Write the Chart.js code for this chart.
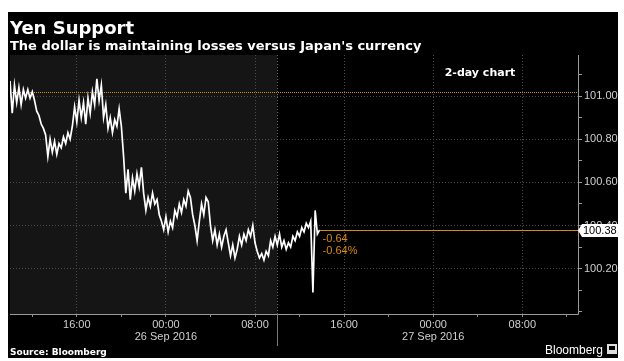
<!DOCTYPE html>
<html>
<head>
<meta charset="utf-8">
<script src="https://cdn.jsdelivr.net/npm/chart.js@4/dist/chart.umd.min.js"></script>
<style>
  html, body { margin: 0; padding: 0; background: #fff; }
  #wrap { position: absolute; left: 0; top: 0; width: 624px; height: 361px; }
</style>
</head>
<body>
<div id="wrap"><canvas id="c" width="624" height="361"></canvas></div>
<script>
// ---------- data ----------
const titleText = "Yen Support";
const subtitleText = "The dollar is maintaining losses versus Japan's currency";
const chartTag = "2-day chart";
const sourceText = "Source: Bloomberg";
const brandText = "Bloomberg";

// USD/JPY, sampled every 0.2 h starting at hour 0 of the 51-hour window
const SAMPLE_STEP_HOURS = 0.2;
const usdJpy = [
  101.07, 100.92, 101.05, 100.97, 101.04, 100.96, 101.03, 100.99, 101.03, 100.99, 101.02,
  100.98, 100.93, 100.91, 100.87, 100.85, 100.82, 100.72, 100.80, 100.74, 100.79,
  100.73, 100.78, 100.76, 100.81, 100.78, 100.83, 100.80, 100.86, 100.95, 100.88,
  100.98, 100.90, 100.97, 100.87, 100.99, 100.92, 101.02, 100.96, 101.08, 100.98,
  101.05, 100.90, 100.96, 100.85, 100.90, 100.83, 100.89, 100.86, 100.94, 100.86,
  100.72, 100.55, 100.66, 100.52, 100.62, 100.56, 100.64, 100.58, 100.67, 100.55,
  100.47, 100.53, 100.49, 100.55, 100.50, 100.52, 100.45, 100.42, 100.38, 100.44,
  100.37, 100.42, 100.39, 100.47, 100.44, 100.50, 100.46, 100.52, 100.49, 100.56,
  100.53, 100.45, 100.40, 100.33, 100.42, 100.50, 100.45, 100.53, 100.51, 100.40,
  100.33, 100.38, 100.31, 100.36, 100.30, 100.35, 100.38, 100.32, 100.26, 100.31,
  100.25, 100.29, 100.35, 100.31, 100.36, 100.33, 100.38, 100.35, 100.40, 100.32,
  100.28, 100.25, 100.27, 100.24, 100.28, 100.26, 100.33, 100.30, 100.35, 100.31,
  100.36, 100.30, 100.33, 100.29, 100.32, 100.30, 100.35, 100.33, 100.37, 100.35,
  100.39, 100.37, 100.41, 100.39, 100.42, 100.09, 100.47, 100.36, 100.38
];

const xRange = [0, 51];                       // hours shown
const xTickHours = [2, 6, 10, 14, 18, 22, 26, 30, 34, 38, 42, 46, 50];
const xLabelHours = [6, 14, 22, 30, 38, 46];
const xLabelTimes = ["16:00", "00:00", "08:00", "16:00", "00:00", "08:00"];
const dateLabelHours = [14, 38];
const dateLabels = ["26 Sep 2016", "27 Sep 2016"];
const sessionBoundaryHour = 24;

const yRange = [99.99, 101.19];
const yTicks = [100.0, 100.1, 100.2, 100.3, 100.4, 100.5, 100.6, 100.7, 100.8, 100.9, 101.0, 101.1];
const yLabelValues = [100.2, 100.4, 100.6, 100.8, 101.0];

const prevClose = 101.02;
const lastPrice = 100.38;
const changeLabels = ["-0.64", "-0.64%"];

// ---------- styling ----------
const FONT = "'Liberation Sans', Arial, sans-serif";
const FONT_B = "'DejaVu Sans', sans-serif";
const ORANGE = "#d88a10";
const AXIS_TXT = "#cfcfcf";
const GRID = "#4a4a4a";
const AXIS_LINE = "#9a9a9a";

const near = (a, b) => Math.abs(a - b) < 1e-6;
const inList = (v, list) => list.some(t => near(t, v));

const points = usdJpy.map((v, i) => ({ x: i * SAMPLE_STEP_HOURS, y: v }));

const decor = {
  id: "decor",
  beforeDraw(chart) {
    const { ctx, chartArea: a, scales: { x } } = chart;
    ctx.save();
    ctx.fillStyle = "#fff";
    ctx.fillRect(0, 0, chart.width, chart.height);
    ctx.fillStyle = "#000";
    ctx.fillRect(8, 12, 610, 346);
    const xb = x.getPixelForValue(sessionBoundaryHour);
    ctx.fillStyle = "#151515";
    ctx.fillRect(a.left, a.top, xb - a.left, a.bottom - a.top);
    // titles
    ctx.fillStyle = "#fff";
    ctx.textBaseline = "alphabetic";
    ctx.textAlign = "left";
    ctx.font = "bold 18px " + FONT_B;
    ctx.fillText(titleText, 10, 34);
    ctx.font = "bold 13px " + FONT_B;
    ctx.fillText(subtitleText, 10, 50);
    ctx.restore();
  },
  beforeDatasetsDraw(chart) {
    const { ctx, chartArea: a, scales: { x, y } } = chart;
    ctx.save();
    ctx.lineWidth = 1;
    // solid axis lines
    ctx.strokeStyle = AXIS_LINE;
    ctx.beginPath();
    ctx.moveTo(a.left, a.bottom + 0.5); ctx.lineTo(a.right + 0.5, a.bottom + 0.5);
    ctx.moveTo(a.right + 0.5, a.top); ctx.lineTo(a.right + 0.5, a.bottom + 0.5);
    ctx.stroke();
    // session separator
    const xb = Math.round(x.getPixelForValue(sessionBoundaryHour)) + 0.5;
    ctx.strokeStyle = "#666";
    ctx.setLineDash([1, 2]);
    ctx.beginPath(); ctx.moveTo(xb, a.top); ctx.lineTo(xb, a.bottom); ctx.stroke();
    ctx.setLineDash([]);
    ctx.strokeStyle = "#777";
    ctx.beginPath(); ctx.moveTo(xb, a.bottom); ctx.lineTo(xb, a.bottom + 32); ctx.stroke();
    // previous close
    const yp = Math.round(y.getPixelForValue(prevClose)) + 0.5;
    ctx.strokeStyle = ORANGE;
    ctx.setLineDash([1, 1]);
    ctx.beginPath(); ctx.moveTo(a.left, yp); ctx.lineTo(a.right, yp); ctx.stroke();
    ctx.restore();
  },
  afterDatasetsDraw(chart) {
    const { ctx, chartArea: a, scales: { x, y } } = chart;
    ctx.save();
    const lastX = x.getPixelForValue(points[points.length - 1].x);
    const yl = Math.round(y.getPixelForValue(lastPrice)) + 0.5;
    ctx.strokeStyle = ORANGE;
    ctx.lineWidth = 1;
    ctx.beginPath(); ctx.moveTo(lastX, yl); ctx.lineTo(a.right, yl); ctx.stroke();
    ctx.fillStyle = ORANGE;
    ctx.font = "11px " + FONT;
    ctx.textAlign = "left";
    ctx.textBaseline = "middle";
    ctx.fillText(changeLabels[0], lastX + 3, yl + 8);
    ctx.fillText(changeLabels[1], lastX + 3, yl + 20);
    // "2-day chart"
    ctx.fillStyle = "#fff";
    ctx.font = "bold 11px " + FONT_B;
    ctx.textAlign = "center";
    ctx.fillText(chartTag, 480, 73);
    // last price box
    const bx = a.right + 4;
    ctx.fillStyle = "#fff";
    ctx.beginPath();
    ctx.moveTo(a.right, yl);
    ctx.lineTo(bx, yl - 6.5);
    ctx.lineTo(620, yl - 6.5);
    ctx.lineTo(620, yl + 6.5);
    ctx.lineTo(bx, yl + 6.5);
    ctx.closePath();
    ctx.fill();
    ctx.fillStyle = "#000";
    ctx.font = "11px " + FONT;
    ctx.textAlign = "left";
    ctx.fillText(lastPrice.toFixed(2), bx + 1, yl + 0.5);
    // footer
    ctx.fillStyle = "#fff";
    ctx.textBaseline = "alphabetic";
    ctx.font = "bold 9px " + FONT_B;
    ctx.fillText(sourceText, 10, 355);
    ctx.font = "12px " + FONT;
    ctx.textAlign = "right";
    ctx.fillText(brandText, 603, 354);
    // small brand icon
    ctx.fillStyle = "#ddd";
    ctx.fillRect(607, 344, 10, 10);
    ctx.fillStyle = "#000";
    ctx.fillRect(609, 346, 6, 4);
    ctx.restore();
  }
};

new Chart(document.getElementById("c"), {
  type: "line",
  data: {
    datasets: [{
      data: points,
      borderColor: "#ffffff",
      borderWidth: 1.7,
      pointRadius: 0,
      tension: 0,
      fill: false
    }]
  },
  options: {
    responsive: false,
    animation: false,
    events: [],
    layout: { padding: { left: 10, top: 55, right: 0, bottom: 0 } },
    plugins: { legend: { display: false }, tooltip: { enabled: false } },
    scales: {
      x: {
        type: "linear",
        min: xRange[0], max: xRange[1],
        afterBuildTicks: s => { s.ticks = xTickHours.map(v => ({ value: v })); },
        afterFit: s => { s.height = 47; },
        grid: {
          color: c => (c.tick && inList(c.tick.value, xLabelHours)) ? GRID : "rgba(0,0,0,0)",
          tickColor: "#888",
          tickLength: 3,
          drawOnChartArea: true
        },
        border: { display: false, dash: [1, 2] },
        ticks: {
          autoSkip: false, maxRotation: 0, padding: 2,
          color: AXIS_TXT,
          font: { family: FONT, size: 11, lineHeight: 1.1 },
          callback: v => {
            const i = xLabelHours.findIndex(h => near(h, v));
            if (i < 0) return "";
            const d = dateLabelHours.findIndex(h => near(h, v));
            return d < 0 ? xLabelTimes[i] : [xLabelTimes[i], dateLabels[d]];
          }
        }
      },
      y: {
        type: "linear",
        position: "right",
        min: yRange[0], max: yRange[1],
        afterBuildTicks: s => { s.ticks = yTicks.map(v => ({ value: v })); },
        afterFit: s => { s.width = 46; },
        grid: {
          color: c => (c.tick && inList(c.tick.value, yLabelValues)) ? GRID : "rgba(0,0,0,0)",
          tickColor: "#999",
          tickLength: 4
        },
        border: { display: false, dash: [1, 2] },
        ticks: {
          autoSkip: false, padding: 2,
          color: AXIS_TXT,
          font: { family: FONT, size: 11 },
          callback: v => inList(v, yLabelValues) ? Number(v).toFixed(2) : ""
        }
      }
    }
  },
  plugins: [decor]
});
</script>
</body>
</html>
